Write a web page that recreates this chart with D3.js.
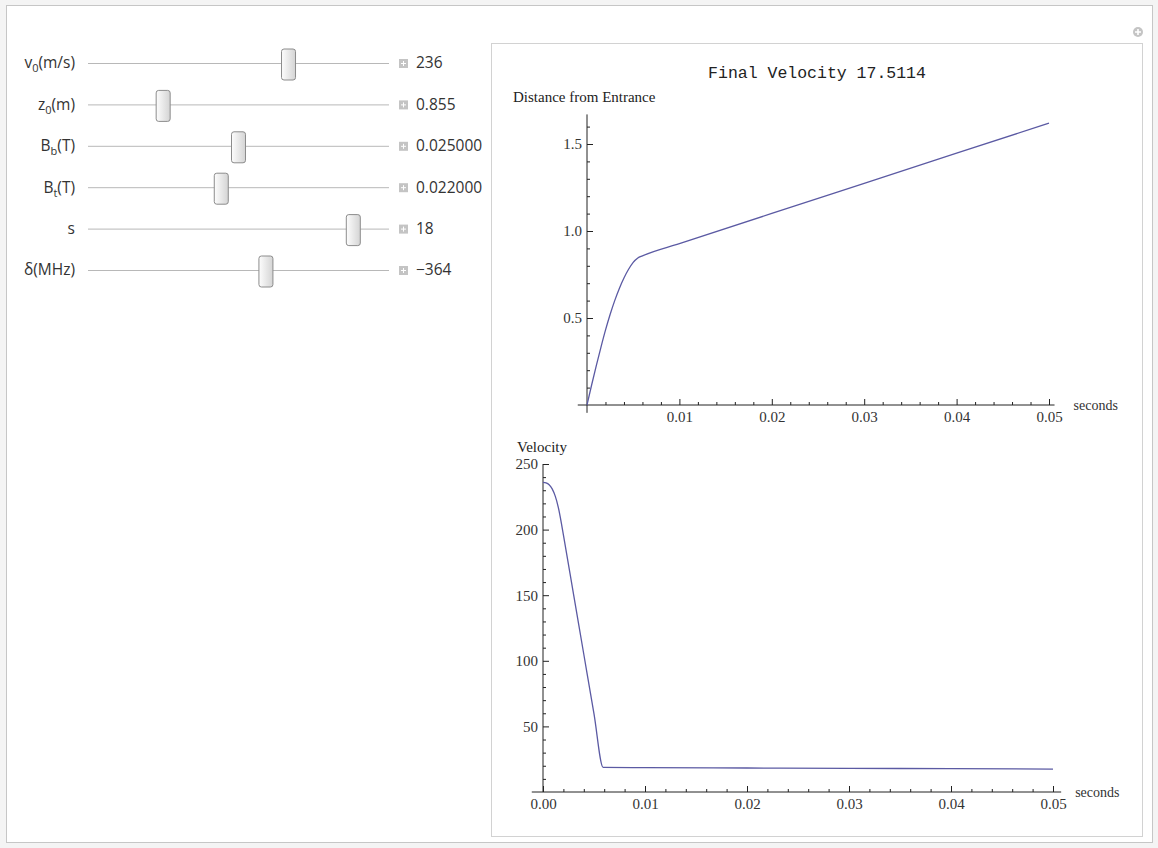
<!DOCTYPE html>
<html>
<head>
<meta charset="utf-8">
<script src="https://cdn.jsdelivr.net/npm/d3@7"></script>
<style>
  body { margin: 0; background: #f4f4f4; }
  svg { display: block; }
</style>
</head>
<body>
<div id="chart"></div>
<script>
// slider controls
var sliderNames = ['v', 'z', 'B', 'B', 's', 'δ(MHz)'];
var sliderSubs = ['0', '0', 'b', 't', '', ''];
var sliderUnits = ['(m/s)', '(m)', '(T)', '(T)', '', ''];
var sliderValues = [236, 0.855, 0.025, 0.022, 18, -364];
var sliderMins = [0, 0, 0, 0, 0, -900];
var sliderMaxs = [350, 3.6, 0.05, 0.05, 20, 0];
var sliderText = ['236', '0.855', '0.025000', '0.022000', '18', '\u2212364'];

// title
var finalVelocity = '17.5114';

// distance from entrance (m) vs time (s)
var distTime = [0, 0.0005, 0.001, 0.0015, 0.002, 0.0025, 0.003, 0.0035, 0.004, 0.0045, 0.005, 0.0055, 0.006, 0.01, 0.02, 0.03, 0.04, 0.05];
var distValue = [0, 0.115, 0.225, 0.33, 0.43, 0.52, 0.60, 0.67, 0.73, 0.78, 0.82, 0.845, 0.857, 0.927, 1.101, 1.274, 1.447, 1.62];

// velocity (m/s) vs time (s)
var velTime = [0, 0.0003, 0.0006, 0.0009, 0.0012, 0.0015, 0.0018, 0.002, 0.003, 0.004, 0.005, 0.0059, 0.01, 0.02, 0.03, 0.04, 0.05];
var velValue = [236, 235.6, 234.2, 231, 225.5, 217, 205, 196, 150.5, 105, 59.5, 18.8, 18.6, 18.3, 18.0, 17.8, 17.5];

// ticks
var timeTicks = [0.01, 0.02, 0.03, 0.04, 0.05];
var timeTicksBottom = [0, 0.01, 0.02, 0.03, 0.04, 0.05];
var distTicks = [0.5, 1.0, 1.5];
var velTicks = [50, 100, 150, 200, 250];

var W = 1158, H = 848;
var lineColor = '#5b5aa3';
var serif = '"Liberation Serif", "Times New Roman", serif';
var uiFont = '"Open Sans", "Noto Sans", sans-serif';

var svg = d3.select('#chart')
  .append('svg')
  .attr('width', W)
  .attr('height', H);

svg.append('rect')
  .attr('x', 0).attr('y', 0).attr('width', W).attr('height', H)
  .attr('fill', '#f4f4f4');

// outer frame
svg.append('rect')
  .attr('x', 6.5).attr('y', 5.5)
  .attr('width', 1146).attr('height', 837)
  .attr('fill', '#fff')
  .attr('stroke', '#c6c6c6');

// plot panel
svg.append('rect')
  .attr('x', 491.5).attr('y', 43.5)
  .attr('width', 651).attr('height', 793)
  .attr('fill', '#fff')
  .attr('stroke', '#d2d2d2');

// little (+) icon at top right
var icon = svg.append('g').attr('transform', 'translate(1138,32)');
icon.append('circle').attr('r', 5).attr('fill', '#c4c4c4');
icon.append('path').attr('d', 'M-3,0H3M0,-3V3').attr('stroke', '#fff').attr('stroke-width', 1.6);

// gradient for slider thumbs
var grad = svg.append('defs').append('linearGradient')
  .attr('id', 'thumb').attr('x1', 0).attr('x2', 1).attr('y1', 0).attr('y2', 0);
grad.append('stop').attr('offset', '0%').attr('stop-color', '#fdfdfd');
grad.append('stop').attr('offset', '100%').attr('stop-color', '#d4d4d4');

// sliders
var rowY = d3.scalePoint().domain(d3.range(sliderValues.length)).range([63, 270]);
var trackX0 = 88, trackX1 = 389;

sliderValues.forEach(function(v, i) {
  var y = rowY(i);
  var g = svg.append('g');
  var sx = d3.scaleLinear()
    .domain([sliderMins[i], sliderMaxs[i]])
    .range([trackX0 + 7, trackX1 - 7]);

  var label = g.append('text')
    .attr('x', 75).attr('y', y)
    .attr('dy', '0.35em')
    .attr('text-anchor', 'end')
    .attr('font-family', uiFont)
    .attr('font-size', 15.5)
    .attr('fill', '#333');
  label.append('tspan').text(sliderNames[i]);
  if (sliderSubs[i]) {
    label.append('tspan').attr('font-size', 11).attr('dy', 4).text(sliderSubs[i]);
    label.append('tspan').attr('dy', -4).text(sliderUnits[i]);
  }

  g.append('line')
    .attr('x1', trackX0).attr('x2', trackX1)
    .attr('y1', y + 0.5).attr('y2', y + 0.5)
    .attr('stroke', '#b8b8b8');

  g.append('rect')
    .attr('x', sx(v) - 7).attr('y', y - 14)
    .attr('width', 14).attr('height', 31)
    .attr('rx', 2.5)
    .attr('fill', 'url(#thumb)')
    .attr('stroke', '#8c8c8c');

  g.append('rect')
    .attr('x', 399).attr('y', y - 4)
    .attr('width', 9).attr('height', 9)
    .attr('fill', '#c4c4c4');
  g.append('path')
    .attr('d', 'M' + 401 + ',' + (y + 0.5) + 'H' + 406 + 'M403.5,' + (y - 2) + 'V' + (y + 3))
    .attr('stroke', '#fff').attr('stroke-width', 1);

  g.append('text')
    .attr('x', 416).attr('y', y)
    .attr('dy', '0.35em')
    .attr('font-family', uiFont)
    .attr('font-size', 15.5)
    .attr('fill', '#333')
    .text(sliderText[i]);
});

// title
svg.append('text')
  .attr('x', 817).attr('y', 72)
  .attr('dy', '0.35em')
  .attr('text-anchor', 'middle')
  .attr('font-family', '"Liberation Mono", "Courier New", monospace')
  .attr('font-size', 16.5)
  .attr('fill', '#222')
  .text('Final Velocity ' + finalVelocity);

function styleAxis(g) {
  g.selectAll('path.domain').remove();
  g.selectAll('line').attr('stroke', '#222');
  g.selectAll('text')
    .attr('font-family', serif)
    .attr('font-size', 15)
    .attr('fill', '#333');
}

function minorTicks(lo, hi, step, majorStep) {
  return d3.range(lo, hi + step / 2, step).filter(function(v) {
    var r = v / majorStep;
    return Math.abs(r - Math.round(r)) > 1e-6;
  });
}

// ---- top chart: distance ----
var x1 = d3.scaleLinear().domain([0, 0.05]).range([587, 1049]);
var y1 = d3.scaleLinear().domain([0, 1]).range([405, 231]);

svg.append('g')
  .attr('transform', 'translate(0,405)')
  .call(d3.axisBottom(x1).tickValues(minorTicks(0.002, 0.05, 0.002, 0.01)).tickSize(-3).tickFormat(''))
  .call(styleAxis);
svg.append('g')
  .attr('transform', 'translate(0,405)')
  .call(d3.axisBottom(x1).tickValues(timeTicks).tickSize(-6).tickPadding(6).tickFormat(d3.format('.2f')))
  .call(styleAxis);
svg.append('g')
  .attr('transform', 'translate(587,0)')
  .call(d3.axisLeft(y1).tickValues(minorTicks(0.1, 1.6, 0.1, 0.5)).tickSize(-3).tickFormat(''))
  .call(styleAxis);
svg.append('g')
  .attr('transform', 'translate(587,0)')
  .call(d3.axisLeft(y1).tickValues(distTicks).tickSize(-6).tickPadding(5).tickFormat(d3.format('.1f')))
  .call(styleAxis);

svg.append('line')
  .attr('x1', x1(-0.001)).attr('x2', x1(0.0506))
  .attr('y1', y1(0)).attr('y2', y1(0))
  .attr('stroke', '#222');
svg.append('line')
  .attr('x1', x1(0)).attr('x2', x1(0))
  .attr('y1', y1(-0.045)).attr('y2', y1(1.67))
  .attr('stroke', '#222');

svg.append('text')
  .attr('x', 513).attr('y', 97)
  .attr('dy', '0.35em')
  .attr('font-family', serif).attr('font-size', 15).attr('fill', '#222')
  .text('Distance from Entrance');
svg.append('text')
  .attr('x', x1(0.0506) + 19).attr('y', y1(0))
  .attr('dy', '0.35em')
  .attr('font-family', serif).attr('font-size', 14).attr('fill', '#333')
  .text('seconds');

var distLine = d3.line()
  .x(function(d, i) { return x1(distTime[i]); })
  .y(function(d) { return y1(d); })
  .curve(d3.curveMonotoneX);

svg.append('path')
  .datum(distValue)
  .attr('fill', 'none')
  .attr('stroke', lineColor)
  .attr('stroke-width', 1.3)
  .attr('d', distLine);

// ---- bottom chart: velocity ----
var x2 = d3.scaleLinear().domain([0, 0.05]).range([543, 1053]);
var y2 = d3.scaleLinear().domain([0, 250]).range([792, 464]);

svg.append('g')
  .attr('transform', 'translate(0,792)')
  .call(d3.axisBottom(x2).tickValues(minorTicks(0.002, 0.05, 0.002, 0.01)).tickSize(-3).tickFormat(''))
  .call(styleAxis);
svg.append('g')
  .attr('transform', 'translate(0,792)')
  .call(d3.axisBottom(x2).tickValues(timeTicksBottom).tickSize(-6).tickPadding(6).tickFormat(d3.format('.2f')))
  .call(styleAxis);
svg.append('g')
  .attr('transform', 'translate(543,0)')
  .call(d3.axisLeft(y2).tickValues(minorTicks(10, 250, 10, 50)).tickSize(-3).tickFormat(''))
  .call(styleAxis);
svg.append('g')
  .attr('transform', 'translate(543,0)')
  .call(d3.axisLeft(y2).tickValues(velTicks).tickSize(-6).tickPadding(5))
  .call(styleAxis);

svg.append('line')
  .attr('x1', x2(-0.0011)).attr('x2', x2(0.0508))
  .attr('y1', y2(0)).attr('y2', y2(0))
  .attr('stroke', '#222');
svg.append('line')
  .attr('x1', x2(0)).attr('x2', x2(0))
  .attr('y1', y2(0)).attr('y2', y2(250))
  .attr('stroke', '#222');

svg.append('text')
  .attr('x', 517).attr('y', 447)
  .attr('dy', '0.35em')
  .attr('font-family', serif).attr('font-size', 15).attr('fill', '#222')
  .text('Velocity');
svg.append('text')
  .attr('x', x2(0.0508) + 14).attr('y', y2(0))
  .attr('dy', '0.35em')
  .attr('font-family', serif).attr('font-size', 14).attr('fill', '#333')
  .text('seconds');

var velLine = d3.line()
  .x(function(d, i) { return x2(velTime[i]); })
  .y(function(d) { return y2(d); })
  .curve(d3.curveMonotoneX);

svg.append('path')
  .datum(velValue)
  .attr('fill', 'none')
  .attr('stroke', lineColor)
  .attr('stroke-width', 1.3)
  .attr('d', velLine);
</script>
</body>
</html>
